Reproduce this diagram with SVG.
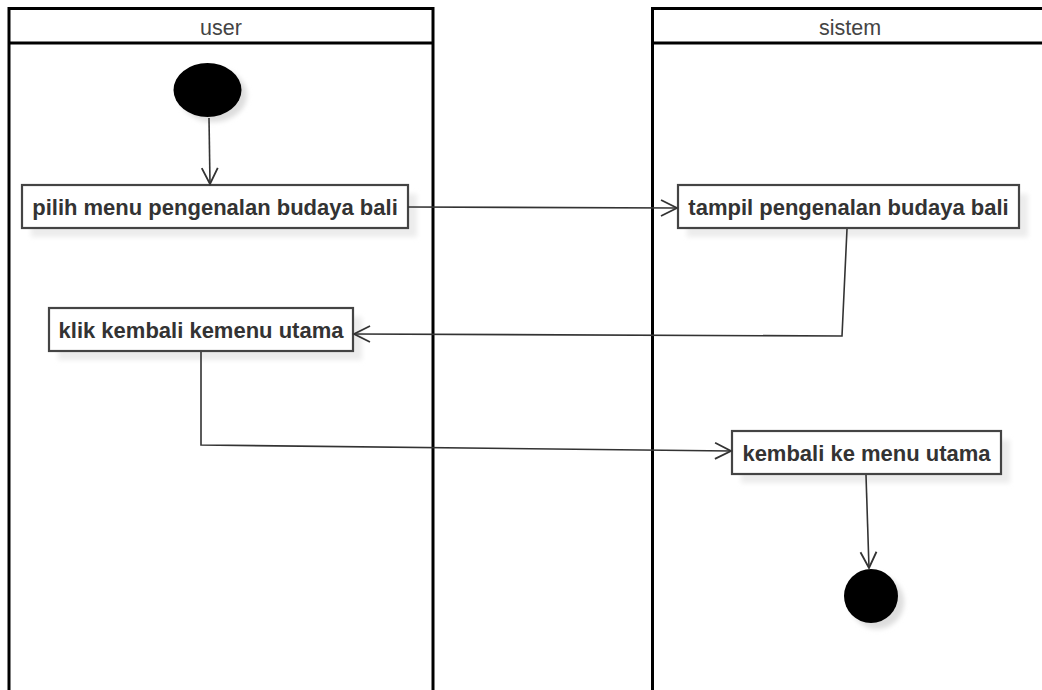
<svg xmlns="http://www.w3.org/2000/svg" width="1042" height="690" viewBox="0 0 1042 690">
  <style>
    .lane { fill: none; stroke: #000; stroke-width: 3; }
    .lane-title { font-family: "Liberation Sans", Arial, sans-serif; font-size: 21.5px; fill: #444; text-anchor: middle; }
    .act { fill: #fff; stroke: #444; stroke-width: 2.2; }
    .shadow { fill: #ececec; stroke: none; }
    .act-label { font-family: "Liberation Sans", Arial, sans-serif; font-size: 22px; font-weight: bold; fill: #333; text-anchor: middle; }
    .flow { fill: none; stroke: #333; stroke-width: 1.6; marker-end: url(#open); }
    .dot { fill: #000; }
  </style>
  <defs>
    <marker id="open" viewBox="0 0 20 20" refX="18" refY="10" markerWidth="20" markerHeight="20" markerUnits="userSpaceOnUse" orient="auto">
      <path d="M2,2 L18,10 L2,18" fill="none" stroke="#333" stroke-width="1.8"/>
    </marker>
    <filter id="soft" x="-20%" y="-20%" width="140%" height="140%">
      <feGaussianBlur stdDeviation="2.5"/>
    </filter>
  </defs>

  <rect width="1042" height="690" fill="#fff"/>

  <!-- swimlanes -->
  <g id="lane-user">
    <rect class="lane" x="9" y="8.5" width="424" height="700"/>
    <line class="lane" x1="9" y1="43" x2="433" y2="43"/>
    <text class="lane-title" x="221" y="35">user</text>
  </g>
  <g id="lane-sistem">
    <rect class="lane" x="652.5" y="8.5" width="400" height="700"/>
    <line class="lane" x1="652.5" y1="43" x2="1052" y2="43"/>
    <text class="lane-title" x="850" y="35">sistem</text>
  </g>

  <!-- initial node -->
  <g id="start">
    <ellipse cx="213" cy="95" rx="34" ry="27" fill="#ddd" filter="url(#soft)"/>
    <ellipse class="dot" cx="207.5" cy="90" rx="34" ry="27"/>
  </g>

  <!-- activities -->
  <g id="pilih-menu">
    <rect class="shadow" x="31" y="194" width="386" height="43" filter="url(#soft)"/>
    <rect class="act" x="22" y="185" width="386" height="43"/>
    <text class="act-label" x="215" y="215">pilih menu pengenalan budaya bali</text>
  </g>
  <g id="tampil-pengenalan">
    <rect class="shadow" x="687" y="194" width="341" height="43" filter="url(#soft)"/>
    <rect class="act" x="678" y="185" width="341" height="43"/>
    <text class="act-label" x="848.5" y="215">tampil pengenalan budaya bali</text>
  </g>
  <g id="klik-kembali">
    <rect class="shadow" x="58" y="317" width="304" height="43" filter="url(#soft)"/>
    <rect class="act" x="49" y="308" width="304" height="43"/>
    <text class="act-label" x="201" y="338">klik kembali kemenu utama</text>
  </g>
  <g id="kembali-menu">
    <rect class="shadow" x="741" y="440" width="269" height="43" filter="url(#soft)"/>
    <rect class="act" x="732" y="431" width="269" height="43"/>
    <text class="act-label" x="866.5" y="461">kembali ke menu utama</text>
  </g>

  <!-- final node -->
  <g id="end">
    <circle cx="877" cy="602" r="27" fill="#ddd" filter="url(#soft)"/>
    <circle class="dot" cx="871" cy="596" r="27"/>
  </g>

  <!-- control flows -->
  <g id="flows">
    <path class="flow" d="M209,118 L210,184"/>
    <path class="flow" d="M408,207 L677,208"/>
    <path class="flow" d="M847,229 L842,336 L354,334"/>
    <path class="flow" d="M201,352 L201,445 L731,451"/>
    <path class="flow" d="M866,475 L869,568"/>
  </g>
</svg>
